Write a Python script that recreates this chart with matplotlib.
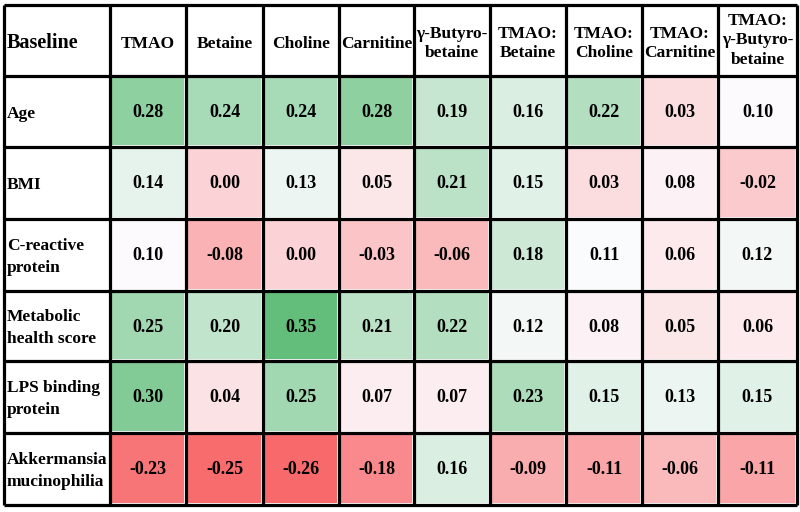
import numpy as np
import matplotlib.pyplot as plt
from matplotlib.colors import LinearSegmentedColormap, TwoSlopeNorm


# DATA

columns = ["TMAO", "Betaine", "Choline", "Carnitine", "γ-Butyro-\nbetaine",
           "TMAO:\nBetaine", "TMAO:\nCholine", "TMAO:\nCarnitine",
           "TMAO:\nγ-Butyro-\nbetaine"]
rows = ["Age", "BMI", "C-reactive\nprotein", "Metabolic\nhealth score",
        "LPS binding\nprotein", "Akkermansia\nmucinophilia"]
corner = "Baseline"

age = [0.28, 0.24, 0.24, 0.28, 0.19, 0.16, 0.22, 0.03, 0.10]
bmi = [0.14, 0.00, 0.13, 0.05, 0.21, 0.15, 0.03, 0.08, -0.02]
crp = [0.10, -0.08, 0.00, -0.03, -0.06, 0.18, 0.11, 0.06, 0.12]
metab = [0.25, 0.20, 0.35, 0.21, 0.22, 0.12, 0.08, 0.05, 0.06]
lps = [0.30, 0.04, 0.25, 0.07, 0.07, 0.23, 0.15, 0.13, 0.15]
akk = [-0.23, -0.25, -0.26, -0.18, 0.16, -0.09, -0.11, -0.06, -0.11]

values = np.array([age, bmi, crp, metab, lps, akk])


# LAYOUT (pixel grid of the table)

x_edges = np.array([4, 110, 186, 263, 339, 414, 490, 566, 642, 718, 797])
y_edges = np.array([5, 76, 147, 219, 291, 361, 433, 505])


# colour scale: red - white - green, centred on the median (spreadsheet style)
cmap = LinearSegmentedColormap.from_list("rwg", ["#F8696B", "#FCFCFF", "#63BE7B"])
norm = TwoSlopeNorm(vcenter=np.median(values), vmin=values.min(), vmax=values.max())

plt.rcParams['font.family'] = ['Liberation Serif', 'DejaVu Serif']

fig = plt.figure(figsize=(8, 5.12), dpi=100)
ax = fig.add_axes([0, 0, 1, 1])
ax.set_xlim(0, 800)
ax.set_ylim(512, 0)
ax.axis("off")

# coloured cells, with a thin white gap inside the grid lines
ax.pcolormesh(x_edges[1:], y_edges[1:], values, cmap=cmap, norm=norm,
              edgecolors="white", linewidth=1.5)

# black grid
ax.hlines(y_edges, x_edges[0], x_edges[-1], color="black", linewidth=2.3)
ax.vlines(x_edges, y_edges[0], y_edges[-1], color="black", linewidth=2.3)

xc = (x_edges[1:] + x_edges[:-1]) / 2
yc = (y_edges[1:] + y_edges[:-1]) / 2

ax.text(x_edges[0] + 3, yc[0] + 2, corner, fontsize=14.5, fontweight="bold",
        ha="left", va="center")

for j, name in enumerate(columns):
    nlines = name.count("\n") + 1
    dy = 0 if nlines > 2 else 3
    ax.text(xc[j + 1], yc[0] + dy, name, fontsize=12.5, fontweight="bold",
            ha="center", va="center", linespacing=1.3)

for i, name in enumerate(rows):
    ax.text(x_edges[0] + 3, yc[i + 1] + 2, name, fontsize=12.5, fontweight="bold",
            ha="left", va="center", linespacing=1.45)
    for j in range(values.shape[1]):
        ax.text(xc[j + 1], yc[i + 1] + 1, f"{values[i, j]:.2f}", fontsize=13,
                fontweight="bold", ha="center", va="center")

fig.savefig("out.png", dpi=100, facecolor="white")
